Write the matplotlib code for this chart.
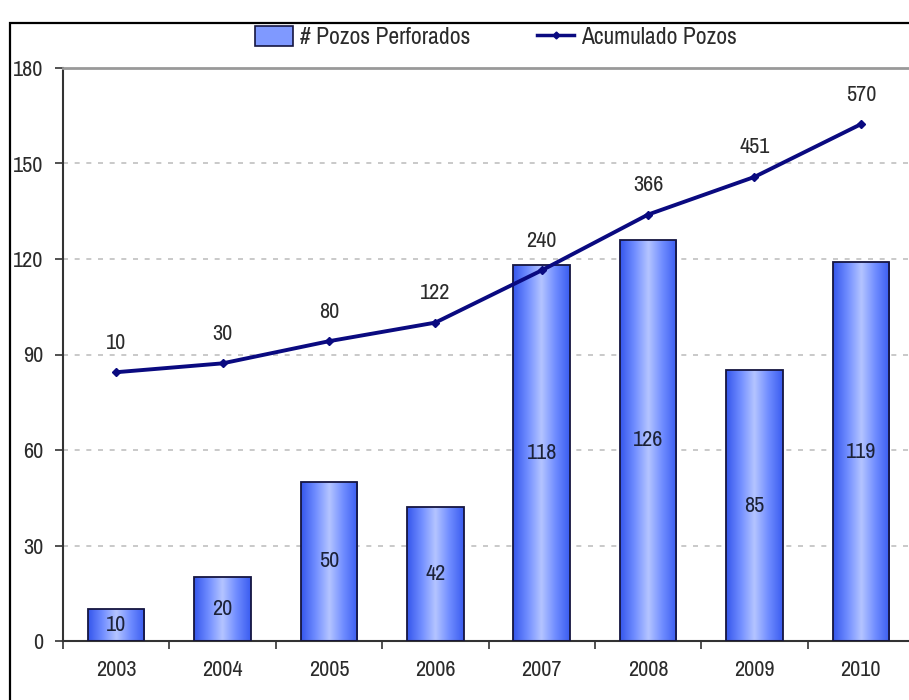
import numpy as np
import matplotlib.pyplot as plt
from matplotlib.colors import LinearSegmentedColormap
from matplotlib.patches import Patch, Rectangle
from matplotlib.lines import Line2D
from matplotlib.ticker import MultipleLocator

plt.rcParams['font.family'] = ['Archivo Narrow', 'DejaVu Sans']

years = ['2003', '2004', '2005', '2006', '2007', '2008', '2009', '2010']
pozos = [10, 20, 50, 42, 118, 126, 85, 119]
acumulado = [10, 30, 80, 122, 240, 366, 451, 570]

NAVY = '#0a0a80'
TXT = '#2b2b2b'
grad = LinearSegmentedColormap.from_list(
    'barra', ['#3556ec', '#6f8cff', '#b4c4ff', '#6f8cff', '#3a5cf0'])

fig = plt.figure(figsize=(9.09, 7.0), dpi=100)
ax = fig.add_axes([63 / 909, 59 / 700, 851 / 909, 573 / 700])

x = np.arange(len(years))
width = 0.53

# bars: gradient image clipped to each rectangle
bars = ax.bar(x, pozos, width, facecolor='none', edgecolor='#151540',
              linewidth=1.3, zorder=3)
g = np.linspace(0, 1, 256).reshape(1, -1)
for b in bars:
    x0, y0 = b.get_x(), b.get_y()
    w, h = b.get_width(), b.get_height()
    im = ax.imshow(g, cmap=grad, aspect='auto', zorder=2,
                   extent=[x0, x0 + w, y0, y0 + h], interpolation='bilinear')
    im.set_clip_path(b)

for xi, v in zip(x, pozos):
    ax.text(xi, v / 2, str(v), ha='center', va='center', fontsize=16,
            color='#1c2238', zorder=5)

ax.set_xlim(-0.5, 7.5)
ax.set_ylim(0, 180)
ax.yaxis.set_major_locator(MultipleLocator(30))
ax.set_xticks(x)
ax.set_xticklabels(years)
ax.set_xticks(np.arange(-0.5, 8, 1), minor=True)
ax.tick_params(axis='x', which='major', length=0, pad=14, labelsize=16,
               labelcolor=TXT)
ax.tick_params(axis='x', which='minor', length=6, width=1.2, color='#333333',
               direction='out')
ax.tick_params(axis='y', length=6, width=1.2, color='#333333', pad=8,
               labelsize=16, labelcolor=TXT)

ax.yaxis.grid(True, linestyle=(0, (3, 4)), color='#c0c0c0', linewidth=1.2)
ax.set_axisbelow(True)
for s in ['left', 'bottom']:
    ax.spines[s].set_color('#333333')
    ax.spines[s].set_linewidth(1.5)
ax.spines['top'].set_color('#999999')
ax.spines['top'].set_linewidth(2)
ax.spines['right'].set_visible(False)

# cumulative series on a hidden secondary scale
ax2 = ax.twinx()
ax2.set_ylim(-597, 697)
ax2.axis('off')
ax2.plot(x, acumulado, color=NAVY, linewidth=2.8, marker='D', markersize=4,
         zorder=6)
for xi, v in zip(x, acumulado):
    ax2.annotate(str(v), (xi, v), xytext=(0, 14), textcoords='offset points',
                 ha='center', va='bottom', fontsize=16, color=TXT)

handles = [
    Patch(facecolor='#7f99ff', edgecolor='#151540', linewidth=1.2),
    Line2D([0], [0], color=NAVY, linewidth=2.5, marker='D', markersize=3.5),
]
fig.legend(handles, ['# Pozos Perforados', 'Acumulado Pozos'], ncol=2,
           loc='center', bbox_to_anchor=(0.546, 0.947), frameon=False,
           fontsize=17, handlelength=1.6, handleheight=0.9, handletextpad=0.3,
           columnspacing=2.8, labelcolor=TXT)

# outer chart frame
fig.patches.append(Rectangle((10 / 909, -0.05), 1.1, 1.05 - 23 / 700,
                             transform=fig.transFigure, fill=False,
                             edgecolor='black', linewidth=1.6))

fig.savefig('out.png', dpi=100)
